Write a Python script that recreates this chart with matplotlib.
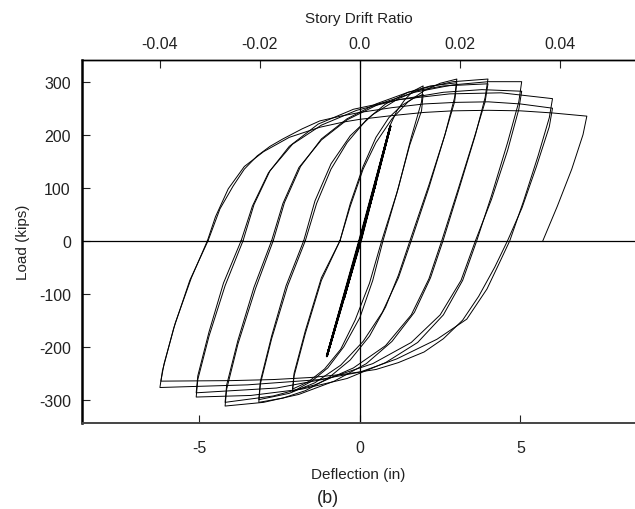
import matplotlib
matplotlib.use("Agg")
import matplotlib.pyplot as plt

plt.rcParams['font.family'] = ['Liberation Sans', 'DejaVu Sans']
plt.rcParams['axes.unicode_minus'] = False

# story height used for the drift ratio axis (in)
story_h = 155.8

# small elastic cycles
el_x = [0, 0.5, 0, -0.5, 0, 0.95, 0.02, -1.03, -0.02, 0.95, 0.03, -1.03, 0]
el_y = [0, 110, 0, -110, 0, 216, 0, -218, 0, 216, 0, -218, 0]

# cycles to ~2 in
a1_x = [0, 0.93, 1.15, 1.4, 1.65, 1.97, 1.92, 1.6, 1.2, 0.72, 0.4, 0.0, -0.5, -1.0, -1.5, -2.1, -2.05, -1.7, -1.2, -0.62]
a1_y = [0, 216, 245, 266, 282, 292, 262, 195, 100, 0, -75, -145, -200, -240, -265, -285, -255, -175, -75, 0]
a2_x = [-0.62, -0.3, 0.1, 0.5, 0.9, 1.3, 1.65, 1.97, 1.92, 1.55, 1.15, 0.68, 0.3, -0.15, -0.6, -1.1, -1.6, -2.1, -2.05, -1.7, -1.2, -0.62]
a2_y = [0, 70, 140, 195, 232, 255, 268, 276, 245, 180, 90, 0, -80, -150, -205, -242, -266, -280, -250, -170, -70, 0]

# cycles to ~3 in
b1_x = [-0.62, -0.3, 0.1, 0.5, 1.0, 1.5, 2.0, 2.5, 3.02, 2.95, 2.65, 2.15, 1.56, 1.2, 0.8, 0.3, -0.3, -1.0, -1.7, -2.4, -3.15, -3.1, -2.75, -2.25, -1.7]
b1_y = [0, 65, 135, 185, 230, 262, 283, 297, 305, 270, 200, 105, 0, -65, -125, -180, -225, -260, -283, -297, -305, -270, -185, -85, 0]
b2_x = [-1.7, -1.35, -0.9, -0.4, 0.2, 0.8, 1.5, 2.2, 3.02, 2.95, 2.6, 2.15, 1.6, 1.2, 0.7, 0.1, -0.6, -1.4, -2.2, -3.15, -3.1, -2.75, -2.3, -1.75]
b2_y = [0, 70, 135, 185, 228, 258, 280, 292, 298, 262, 190, 100, 0, -70, -135, -190, -235, -268, -288, -300, -265, -180, -85, 0]

# cycles to ~4 in
c1_x = [-1.75, -1.4, -0.9, -0.3, 0.4, 1.2, 2.0, 2.9, 3.99, 3.9, 3.6, 3.1, 2.59, 2.2, 1.7, 1.0, 0.2, -0.8, -1.9, -3.0, -4.2, -4.15, -3.8, -3.25, -2.7]
c1_y = [0, 75, 145, 198, 238, 268, 288, 300, 305, 270, 200, 100, 0, -70, -135, -190, -232, -265, -290, -305, -312, -280, -195, -90, 0]
c2_x = [-2.7, -2.35, -1.85, -1.2, -0.4, 0.5, 1.5, 2.6, 3.99, 3.9, 3.55, 3.05, 2.55, 2.15, 1.6, 0.8, -0.2, -1.4, -2.7, -4.2, -4.15, -3.8, -3.3, -2.75]
c2_y = [0, 72, 140, 192, 230, 258, 280, 292, 296, 262, 192, 95, 0, -72, -140, -198, -240, -272, -293, -305, -272, -188, -88, 0]

# cycles to ~5 in
d1_x = [-2.75, -2.4, -1.9, -1.2, -0.4, 0.6, 1.7, 2.9, 4.0, 5.04, 4.95, 4.6, 4.1, 3.64, 3.2, 2.6, 1.8, 0.8, -0.4, -1.8, -3.4, -5.1, -5.05, -4.7, -4.2, -3.64]
d1_y = [0, 70, 138, 190, 228, 258, 280, 294, 300, 300, 262, 185, 85, 0, -75, -140, -192, -230, -260, -280, -292, -295, -262, -180, -85, 0]
d2_x = [-3.64, -3.3, -2.8, -2.1, -1.2, -0.1, 1.2, 2.6, 3.8, 5.04, 4.95, 4.6, 4.1, 3.6, 3.15, 2.5, 1.6, 0.4, -1.0, -2.6, -5.1, -5.05, -4.7, -4.25, -3.7]
d2_y = [0, 68, 132, 182, 218, 246, 266, 280, 285, 282, 248, 170, 78, 0, -75, -140, -192, -232, -260, -278, -287, -255, -172, -80, 0]

# cycles to ~6 in
e1_x = [-3.7, -3.35, -2.85, -2.2, -1.3, -0.2, 1.2, 2.8, 4.4, 6.0, 5.9, 5.55, 5.1, 4.67, 4.36, 3.96, 3.33, 2.4, 1.15, 0, -1.25, -3.5, -6.23, -6.15, -5.8, -5.3, -4.73]
e1_y = [0, 65, 128, 178, 220, 248, 266, 277, 279, 268, 232, 160, 75, 0, -40, -91, -148, -186, -223, -248, -262, -272, -277, -245, -165, -75, 0]
e2_x = [-4.73, -4.36, -3.95, -3.6, -3.2, -2.8, -2.4, -1.8, -1.25, -0.6, 0, 1.0, 2.0, 3.0, 4.0, 5.0, 6.0, 5.9, 5.5, 5.05, 4.6, 4.2, 3.7, 3.2, 2.6, 2.0, 1.2, 0.5, -0.5, -1.5, -2.7, -4.0, -6.2, -6.1, -5.75, -5.25, -4.75]
e2_y = [0, 60, 103, 135, 160, 178, 192, 211, 226, 235, 242, 251, 258, 261, 262, 258, 250, 215, 140, 62, 0, -50, -105, -150, -185, -210, -230, -243, -252, -258, -262, -264, -265, -232, -155, -70, 0]

# final excursion to ~7 in and unloading
f_x = [-4.75, -4.5, -4.1, -3.6, -3.0, -2.2, -1.25, -0.5, 0, 1.0, 2.0, 2.9, 4.0, 5.0, 6.0, 7.07, 6.95, 6.6, 6.15, 5.7]
f_y = [0, 45, 98, 140, 168, 195, 214, 224, 229, 236, 242, 245, 246, 245, 241, 235, 200, 135, 65, 0]

loops = [(el_x, el_y), (a1_x, a1_y), (a2_x, a2_y), (b1_x, b1_y), (b2_x, b2_y),
         (c1_x, c1_y), (c2_x, c2_y), (d1_x, d1_y), (d2_x, d2_y),
         (e1_x, e1_y), (e2_x, e2_y), (f_x, f_y)]

drift_ticks = [-0.04, -0.02, 0.0, 0.02, 0.04]
drift_labels = ['-0.04', '-0.02', '0.0', '0.02', '0.04']

fig = plt.figure(figsize=(6.35, 5.1), dpi=100)
ax = fig.add_axes([0.129, 0.1686, 0.871, 0.7124])

for lx, ly in loops:
    ax.plot(lx, ly, color='black', lw=0.7)
# heavier trace for the repeated elastic cycles
ax.plot(el_x, el_y, color='black', lw=1.4)

ax.axhline(0, color='black', lw=0.9)
ax.axvline(0, color='black', lw=0.9)

ax.set_xlim(-8.66, 8.57)
ax.set_ylim(-344, 341.5)
ax.set_xticks([-5, 0, 5])
ax.set_yticks([-300, -200, -100, 0, 100, 200, 300])
ax.tick_params(direction='in', length=6, labelsize=11.5, colors='#222', pad=12)
ax.tick_params(axis='y', pad=8)
ax.set_xlabel('Deflection (in)', fontsize=11, color='#222', labelpad=9)
ax.set_ylabel('Load (kips)', fontsize=11, color='#222', labelpad=6)

ax.spines['right'].set_visible(False)
ax.spines['left'].set_linewidth(1.8)
ax.spines['bottom'].set_linewidth(1.4)
ax.spines['bottom'].set_color('#444')
ax.spines['top'].set_linewidth(1.0)

top = ax.secondary_xaxis('top', functions=(lambda d: d / story_h, lambda r: r * story_h))
top.set_xticks(drift_ticks)
top.set_xticklabels(drift_labels)
top.tick_params(direction='in', length=6, labelsize=11.5, colors='#222', pad=6)
top.set_xlabel('Story Drift Ratio', fontsize=11, color='#222', labelpad=10)
top.spines['top'].set_linewidth(1.0)

fig.text(0.517, 0.014, '(b)', fontsize=13, color='#222', ha='center')

plt.savefig('out.png', dpi=100)
